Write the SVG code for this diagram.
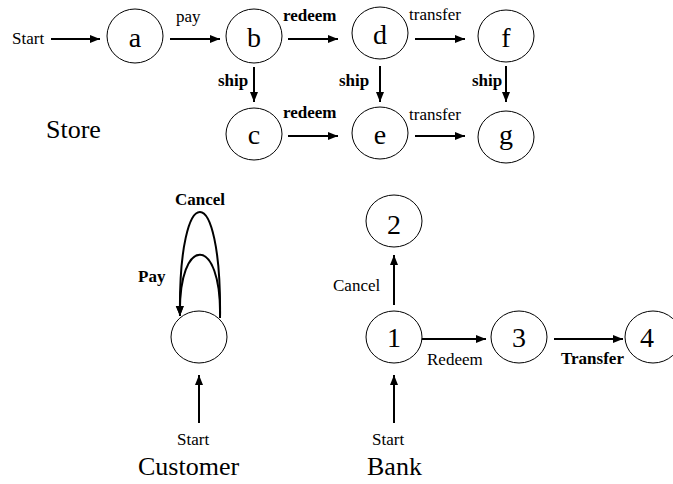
<svg xmlns="http://www.w3.org/2000/svg" width="673" height="484" viewBox="0 0 673 484">
<style>
.n{fill:#fff;stroke:#000;stroke-width:1}
.nl{font-size:28px;text-anchor:middle}
.l{font-size:17px}
.b{font-weight:bold}
.t{font-size:26px}
.e{fill:none;stroke:#000;stroke-width:2;marker-end:url(#ah)}
</style>
<defs>
<marker id="ah" markerUnits="userSpaceOnUse" markerWidth="12" markerHeight="10" refX="10" refY="4" orient="auto">
<path d="M0,0 L10,4 L0,8 Z" fill="#000"/>
</marker>
</defs>
<g id="edges">
<path class="e" d="M51,39 H100"/>
<path class="e" d="M170,39 H220"/>
<path class="e" d="M288,39 H338"/>
<path class="e" d="M415,39 H465"/>
<path class="e" d="M254,67 V102"/>
<path class="e" d="M380,66 V102"/>
<path class="e" d="M506,66 V102"/>
<path class="e" d="M288,136 H338"/>
<path class="e" d="M415,136 H465"/>
<path class="e" d="M220,318 C222,177 178,177 180,316"/>
<path class="e" d="M220,318 C222,234 178,234 180,316"/>
<path class="e" d="M199,423 V375"/>
<path class="e" d="M394,305 V255"/>
<path class="e" d="M422,339 H486"/>
<path class="e" d="M554,339 H623"/>
<path class="e" d="M394,423 V375"/>
</g>
<g id="labels">
<text class="l" font-family="Liberation Serif" x="12" y="44">Start</text>
<text class="l" font-family="Liberation Serif" x="176" y="22">pay</text>
<text class="l b" font-family="Liberation Serif" x="283" y="21">redeem</text>
<text class="l" font-family="Liberation Serif" x="409" y="20">transfer</text>
<text class="l b" font-family="Liberation Serif" x="218" y="86">ship</text>
<text class="l b" font-family="Liberation Serif" x="339" y="86">ship</text>
<text class="l b" font-family="Liberation Serif" x="472" y="86">ship</text>
<text class="l b" font-family="Liberation Serif" x="283" y="118">redeem</text>
<text class="l" font-family="Liberation Serif" x="409" y="120">transfer</text>
<text class="t" font-family="Liberation Serif" x="46" y="138">Store</text>
<text class="l b" font-family="Liberation Serif" x="175" y="205">Cancel</text>
<text class="l b" font-family="Liberation Serif" x="138" y="282">Pay</text>
<text class="l" font-family="Liberation Serif" x="177" y="445">Start</text>
<text class="t" font-family="Liberation Serif" x="138" y="475">Customer</text>
<text class="l" font-family="Liberation Serif" x="333" y="291">Cancel</text>
<text class="l" font-family="Liberation Serif" x="427" y="365">Redeem</text>
<text class="l b" font-family="Liberation Serif" x="561" y="364">Transfer</text>
<text class="l" font-family="Liberation Serif" x="372" y="445">Start</text>
<text class="t" font-family="Liberation Serif" x="367" y="475">Bank</text>
</g>
<g id="a"><ellipse class="n" cx="135" cy="36" rx="28" ry="27"/><text class="nl" font-family="Liberation Serif" x="135" y="47">a</text></g>
<g id="b"><ellipse class="n" cx="254" cy="36" rx="28" ry="27"/><text class="nl" font-family="Liberation Serif" x="254" y="47">b</text></g>
<g id="d"><ellipse class="n" cx="380" cy="33" rx="28" ry="26"/><text class="nl" font-family="Liberation Serif" x="380" y="44">d</text></g>
<g id="f"><ellipse class="n" cx="506" cy="36" rx="28" ry="26"/><text class="nl" font-family="Liberation Serif" x="506" y="47">f</text></g>
<g id="c"><ellipse class="n" cx="254" cy="134" rx="28" ry="26"/><text class="nl" font-family="Liberation Serif" x="254" y="144">c</text></g>
<g id="e"><ellipse class="n" cx="380" cy="133" rx="28" ry="26"/><text class="nl" font-family="Liberation Serif" x="380" y="144">e</text></g>
<g id="g"><ellipse class="n" cx="506" cy="137" rx="28" ry="26"/><text class="nl" font-family="Liberation Serif" x="506" y="144">g</text></g>
<g id="customer"><ellipse class="n" cx="199" cy="337" rx="28" ry="26"/></g>
<g id="s2"><ellipse class="n" cx="394" cy="221" rx="28" ry="26"/><text class="nl" font-family="Liberation Serif" x="394" y="234">2</text></g>
<g id="s1"><ellipse class="n" cx="394" cy="337" rx="28" ry="26"/><text class="nl" font-family="Liberation Serif" x="394" y="347">1</text></g>
<g id="s3"><ellipse class="n" cx="519" cy="337" rx="28" ry="26"/><text class="nl" font-family="Liberation Serif" x="519" y="347">3</text></g>
<g id="s4"><ellipse class="n" cx="653" cy="337" rx="28" ry="26"/><text class="nl" font-family="Liberation Serif" x="647" y="347">4</text></g>
</svg>
